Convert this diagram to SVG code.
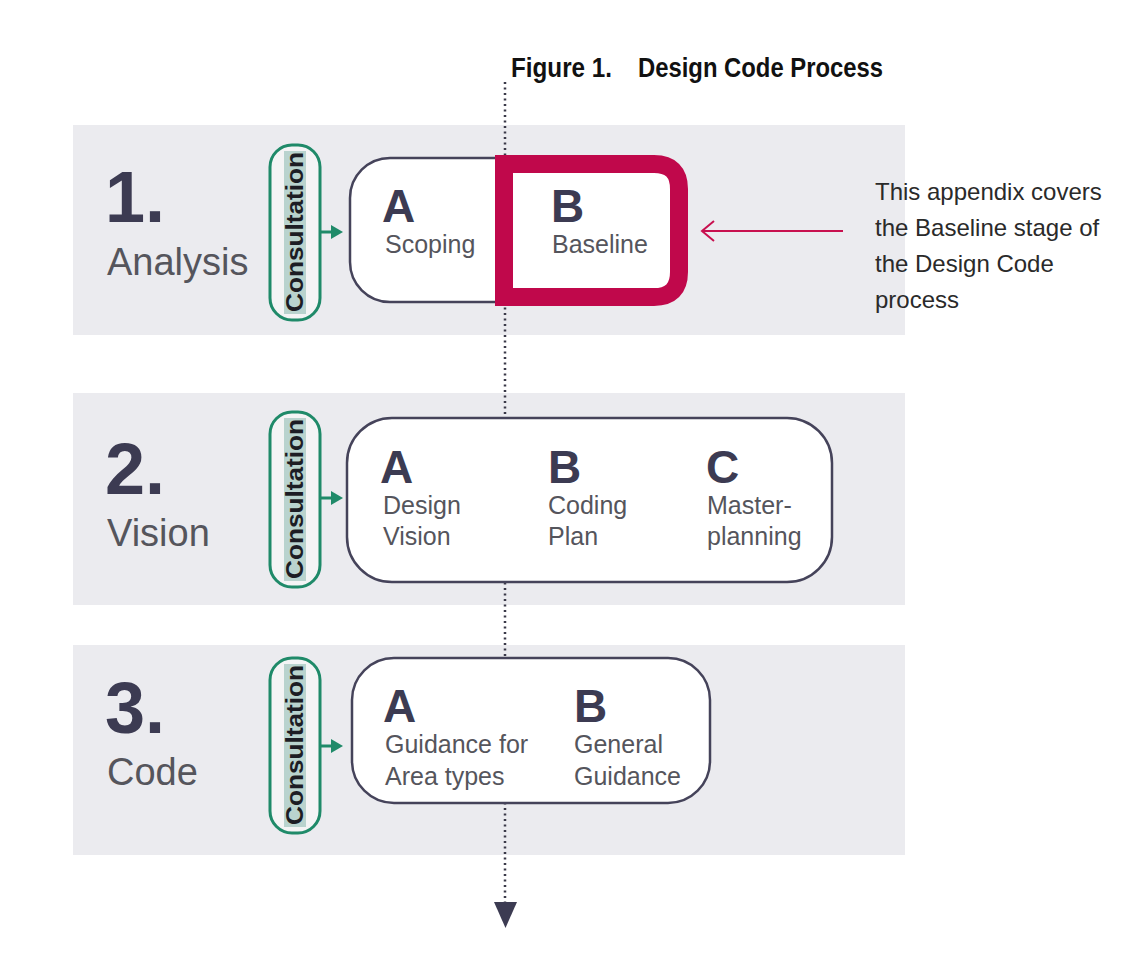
<svg xmlns="http://www.w3.org/2000/svg" width="1122" height="962" viewBox="0 0 1122 962">
<defs>
<style>
.panel{fill:#ebebef;}
.pill{fill:#f4f4f5;stroke:#1f8a69;stroke-width:3;}
.pilltxt{font-family:"Liberation Sans",Arial,sans-serif;font-weight:bold;font-size:23px;fill:#1d1d24;}
.num{font-family:"Liberation Sans",Arial,sans-serif;font-weight:bold;font-size:72px;fill:#3c3b52;}
.stage{font-family:"Liberation Sans",Arial,sans-serif;font-size:38px;fill:#55555c;}
.box{fill:#ffffff;stroke:#45435a;stroke-width:2.5;}
.let{font-family:"Liberation Sans",Arial,sans-serif;font-weight:bold;font-size:46px;fill:#3c3b52;}
.sub{font-family:"Liberation Sans",Arial,sans-serif;font-size:25px;fill:#55555c;}
.note{font-family:"Liberation Sans",Arial,sans-serif;font-size:24px;fill:#2a2a2a;}
.ttl{font-family:"Liberation Sans",Arial,sans-serif;font-weight:bold;font-size:27px;fill:#111;}
.garrow{stroke:#1f8a69;stroke-width:3;fill:none;}
.ghead{fill:#1f8a69;}
</style>
</defs>
<rect width="1122" height="962" fill="#ffffff"/>
<g id="panels">
<rect class="panel" x="73" y="125" width="832" height="210"/>
<rect class="panel" x="73" y="393" width="832" height="212"/>
<rect class="panel" x="73" y="645" width="832" height="210"/>
</g>
<g id="title">
<text class="ttl" x="511" y="77" textLength="101" lengthAdjust="spacingAndGlyphs">Figure 1.</text>
<text class="ttl" x="638" y="77" textLength="245" lengthAdjust="spacingAndGlyphs">Design Code Process</text>
</g>
<g id="connectors">
<line x1="505" y1="82" x2="505" y2="902" stroke="#3a3948" stroke-width="2.5" stroke-dasharray="2 3.5"/>
<path d="M494,902 L517,902 L505.5,928 Z" fill="#3c3b52"/>
<line class="garrow" x1="320" y1="232" x2="333" y2="232"/>
<path class="ghead" d="M331,225 L343,232 L331,239 Z"/>
<line class="garrow" x1="320" y1="498" x2="333" y2="498"/>
<path class="ghead" d="M331,491 L343,498 L331,505 Z"/>
<line class="garrow" x1="320" y1="746" x2="333" y2="746"/>
<path class="ghead" d="M331,739 L343,746 L331,753 Z"/>
<line x1="843" y1="231" x2="702" y2="231" stroke="#c8104f" stroke-width="2"/>
<path d="M714,221 L702,231 L714,241" fill="none" stroke="#c8104f" stroke-width="2"/>
</g>
<g id="stage1">
<text class="num" x="105" y="222">1.</text>
<text class="stage" x="107" y="275">Analysis</text>
<rect class="pill" x="270" y="145" width="50" height="175" rx="22"/>
<rect x="284" y="151" width="22" height="163" fill="#b9d3ce"/>
<text class="pilltxt" transform="translate(303,232) rotate(-90)" text-anchor="middle" textLength="160" lengthAdjust="spacingAndGlyphs">Consultation</text>
</g>
<g id="box1">
<rect class="box" x="350" y="158" width="330" height="144" rx="40"/>
<text class="let" x="382" y="222">A</text>
<text class="sub" x="385" y="253">Scoping</text>
</g>
<g id="box1b">
<path d="M504,164 L654,164 Q679,164 679,189 L679,272 Q679,297 654,297 L504,297 Z" fill="#ffffff" stroke="#c0084b" stroke-width="18"/>
<text class="let" x="551" y="222">B</text>
<text class="sub" x="552" y="253">Baseline</text>
</g>
<g id="stage2">
<text class="num" x="105" y="494">2.</text>
<text class="stage" x="107" y="546">Vision</text>
<rect class="pill" x="270" y="412" width="50" height="175" rx="22"/>
<rect x="284" y="418" width="22" height="163" fill="#b9d3ce"/>
<text class="pilltxt" transform="translate(303,499) rotate(-90)" text-anchor="middle" textLength="160" lengthAdjust="spacingAndGlyphs">Consultation</text>
</g>
<g id="box2">
<rect class="box" x="347" y="418" width="485" height="164" rx="45"/>
<text class="let" x="380" y="483">A</text>
<text class="sub" x="383" y="514">Design</text>
<text class="sub" x="383" y="545">Vision</text>
<text class="let" x="548" y="483">B</text>
<text class="sub" x="548" y="514">Coding</text>
<text class="sub" x="548" y="545">Plan</text>
<text class="let" x="706" y="483">C</text>
<text class="sub" x="707" y="514">Master-</text>
<text class="sub" x="707" y="545">planning</text>
</g>
<g id="stage3">
<text class="num" x="105" y="733">3.</text>
<text class="stage" x="107" y="785">Code</text>
<rect class="pill" x="270" y="658" width="50" height="175" rx="22"/>
<rect x="284" y="664" width="22" height="163" fill="#b9d3ce"/>
<text class="pilltxt" transform="translate(303,745) rotate(-90)" text-anchor="middle" textLength="160" lengthAdjust="spacingAndGlyphs">Consultation</text>
</g>
<g id="box3">
<rect class="box" x="352" y="658" width="358" height="145" rx="42"/>
<text class="let" x="383" y="722">A</text>
<text class="sub" x="385" y="753">Guidance for</text>
<text class="sub" x="385" y="785">Area types</text>
<text class="let" x="574" y="722">B</text>
<text class="sub" x="574" y="753">General</text>
<text class="sub" x="574" y="785">Guidance</text>
</g>
<g id="note">
<text class="note" x="875" y="200">This appendix covers</text>
<text class="note" x="875" y="236">the Baseline stage of</text>
<text class="note" x="875" y="272">the Design Code</text>
<text class="note" x="875" y="308">process</text>
</g>
</svg>
